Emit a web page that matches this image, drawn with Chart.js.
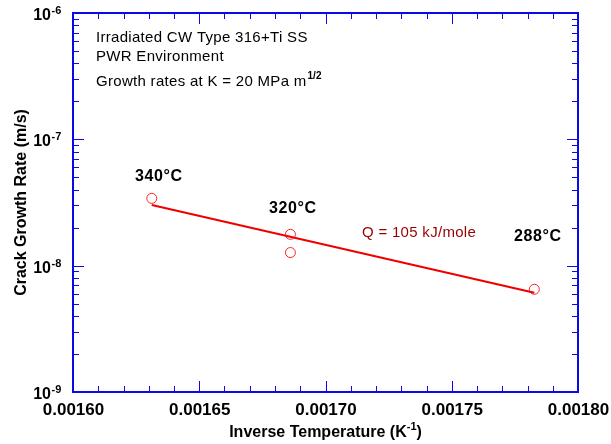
<!DOCTYPE html>
<html>
<head>
<meta charset="utf-8">
<script src="https://cdn.jsdelivr.net/npm/chart.js@4.4.1/dist/chart.umd.min.js"></script>
<style>
  html, body { margin: 0; padding: 0; background: #fff; }
  #wrap { width: 611px; height: 444px; position: relative; }
</style>
</head>
<body>
<div id="wrap"><canvas id="c" width="611" height="444"></canvas></div>
<script>
// ---- data ----
const invTemp    = [0.0016312, 0.0016861, 0.0016861, 0.0017827];   // 1/T (K^-1)
const growthRate = [3.41e-8, 1.77e-8, 1.27e-8, 6.5e-9];              // m/s
const fitX       = [0.0016312, 0.0017827];
const fitY       = [3.02e-8, 6.1e-9];
const xTicks     = [0.00160, 0.00165, 0.00170, 0.00175, 0.00180];
const xTickLabels= ['0.00160', '0.00165', '0.00170', '0.00175', '0.00180'];
const yExponents = [-9, -8, -7, -6];
const tempLabels = ['340°C', '320°C', '288°C'];
const noteLines  = ['Irradiated CW Type 316+Ti SS', 'PWR Environment', 'Growth rates at K = 20 MPa m'];
const qLabel     = 'Q = 105 kJ/mole';

const FONT = '"Liberation Sans", Arial, Helvetica, sans-serif';
const AXIS_BLUE = '#0a0ae6';

const decor = {
  id: 'decor',
  afterDraw(chart) {
    const ctx = chart.ctx;
    const xs = chart.scales.x, ys = chart.scales.y;
    const a = chart.chartArea;
    ctx.save();
    // ticks
    ctx.strokeStyle = AXIS_BLUE;
    ctx.lineWidth = 1;
    const majL = 11, minL = 6;
    for (let i = 0; i <= 20; i++) {
      const v = 0.0016 + i * 0.00001;
      const px = Math.round(xs.getPixelForValue(v)) + 0.5;
      const L = (i % 5 === 0) ? majL : minL;
      ctx.beginPath();
      ctx.moveTo(px, a.bottom); ctx.lineTo(px, a.bottom - L);
      ctx.moveTo(px, a.top); ctx.lineTo(px, a.top + L);
      ctx.stroke();
    }
    for (let e = -9; e < -6; e++) {
      for (let m = 1; m <= 9; m++) {
        const v = m * Math.pow(10, e);
        const py = Math.round(ys.getPixelForValue(v)) + 0.5;
        const L = (m === 1) ? majL : minL;
        ctx.beginPath();
        ctx.moveTo(a.left, py); ctx.lineTo(a.left + L, py);
        ctx.moveTo(a.right, py); ctx.lineTo(a.right - L, py);
        ctx.stroke();
      }
    }
    ctx.lineWidth = 2;
    ctx.strokeRect(a.left, a.top, a.right - a.left, a.bottom - a.top);

    // x tick labels
    ctx.fillStyle = '#000';
    ctx.font = 'bold 17px ' + FONT;
    ctx.textAlign = 'center';
    ctx.textBaseline = 'alphabetic';
    xTicks.forEach((v, i) => {
      ctx.fillText(xTickLabels[i], xs.getPixelForValue(v) + 0.5, 415);
    });
    // y tick labels 10^n
    yExponents.forEach(e => {
      const py = ys.getPixelForValue(Math.pow(10, e));
      ctx.font = 'bold 16px ' + FONT;
      ctx.textAlign = 'right';
      ctx.fillText('10', 51, py + 7);
      ctx.font = 'bold 11px ' + FONT;
      ctx.textAlign = 'left';
      ctx.fillText('-' + (-e), 51.5, py + 1);
    });

    // axis titles
    ctx.textAlign = 'left';
    const t1 = 'Inverse Temperature (K';
    ctx.font = 'bold 16px ' + FONT;
    const w1 = ctx.measureText(t1).width;
    ctx.font = 'bold 11px ' + FONT;
    const ws = ctx.measureText('-1').width;
    ctx.font = 'bold 16px ' + FONT;
    const w2 = ctx.measureText(')').width;
    const cx = (a.left + a.right) / 2;
    const x0 = cx - (w1 + ws + w2) / 2;
    ctx.fillText(t1, x0, 437);
    ctx.font = 'bold 11px ' + FONT;
    ctx.fillText('-1', x0 + w1, 430);
    ctx.font = 'bold 16px ' + FONT;
    ctx.fillText(')', x0 + w1 + ws, 437);

    ctx.save();
    ctx.translate(26, (a.top + a.bottom) / 2);
    ctx.rotate(-Math.PI / 2);
    ctx.textAlign = 'center';
    ctx.font = 'bold 16px ' + FONT;
    ctx.fillText('Crack Growth Rate (m/s)', 0, 0);
    ctx.restore();

    // annotations
    ctx.textAlign = 'left';
    ctx.letterSpacing = '0.3px';
    ctx.font = '15px ' + FONT;
    ctx.fillText(noteLines[0], 96, 42);
    ctx.fillText(noteLines[1], 96, 61);
    ctx.fillText(noteLines[2], 96, 86);
    const wg = ctx.measureText(noteLines[2]).width;
    ctx.font = 'bold 10px ' + FONT;
    ctx.letterSpacing = '0px';
    ctx.fillText('1/2', 96 + wg + 1, 79);

    ctx.letterSpacing = '0.6px';
    ctx.font = 'bold 16px ' + FONT;
    ctx.fillText(tempLabels[0], 135, 181);
    ctx.fillText(tempLabels[1], 269, 213);
    ctx.fillText(tempLabels[2], 514, 241);

    ctx.fillStyle = '#990000';
    ctx.letterSpacing = '0.3px';
    ctx.font = '15px ' + FONT;
    ctx.fillText(qLabel, 362, 237);
    ctx.restore();
  }
};

new Chart(document.getElementById('c'), {
  type: 'scatter',
  data: {
    datasets: [
      {
        label: 'fit',
        data: fitX.map((x, i) => ({ x, y: fitY[i] })),
        showLine: true,
        borderColor: '#ee0000',
        borderWidth: 2,
        pointRadius: 0,
        fill: false
      },
      {
        label: 'data',
        data: invTemp.map((x, i) => ({ x, y: growthRate[i] })),
        showLine: false,
        pointStyle: 'circle',
        pointRadius: 5,
        borderColor: '#ff2020',
        backgroundColor: 'rgba(0,0,0,0)',
        borderWidth: 1
      }
    ]
  },
  options: {
    responsive: false,
    animation: false,
    devicePixelRatio: 1,
    layout: { padding: { left: 73, top: 13, right: 33, bottom: 52 } },
    plugins: { legend: { display: false }, tooltip: { enabled: false } },
    scales: {
      x: {
        type: 'linear', min: 0.0016, max: 0.0018,
        ticks: { display: false },
        grid: { display: false, drawTicks: false },
        border: { display: false },
        afterFit: s => { s.height = 0; }
      },
      y: {
        type: 'logarithmic', min: 1e-9, max: 1e-6,
        ticks: { display: false },
        grid: { display: false, drawTicks: false },
        border: { display: false },
        afterFit: s => { s.width = 0; }
      }
    }
  },
  plugins: [decor]
});
</script>
</body>
</html>
